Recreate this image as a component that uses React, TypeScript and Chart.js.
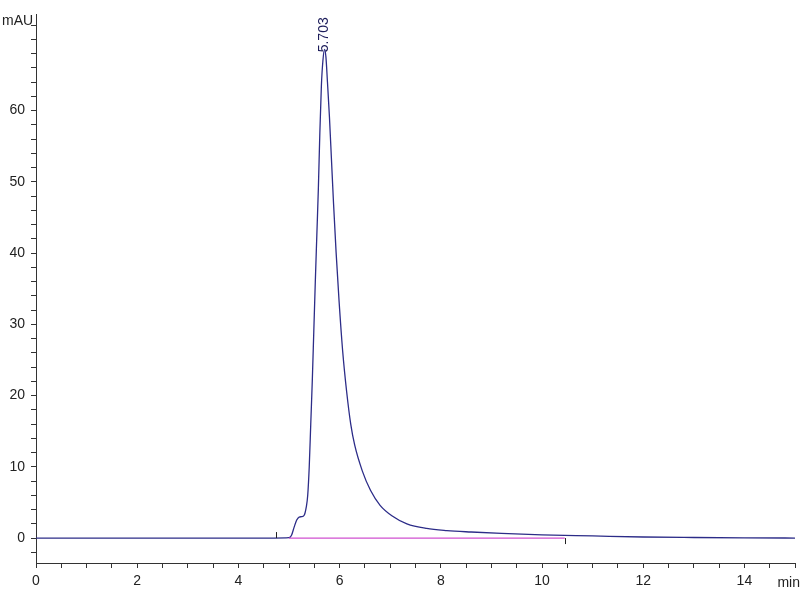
import React, { useEffect, useRef } from "react";
import { Chart, registerables } from "chart.js";

Chart.register(...registerables);

// Retention time (min) and absorbance (mAU) of the trace
const timeMin: number[] = [
  0, 4.7, 5.0, 5.05, 5.1, 5.15, 5.2, 5.25, 5.3, 5.34, 5.37, 5.4, 5.43, 5.46, 5.49,
  5.52, 5.55, 5.58, 5.61, 5.64, 5.67, 5.703, 5.73, 5.76, 5.8, 5.84, 5.88, 5.93,
  5.99, 6.06, 6.14, 6.22, 6.3, 6.45, 6.61, 6.8, 7.04, 7.33, 7.72, 8.12, 8.6, 9.2,
  10, 11, 12, 13, 14, 15,
];
const signalMAU: number[] = [
  0, 0, 0.05, 0.4, 1.5, 2.5, 2.95, 3.0, 3.2, 4.3, 6.0, 10, 16, 22, 29, 36, 42.5,
  49, 57, 63.5, 67, 68.6, 67.5, 64, 59, 53, 47, 40.2, 33.2, 26.3, 20.5, 16.0,
  13.0, 9.4, 6.7, 4.6, 3.1, 2.0, 1.35, 1.05, 0.85, 0.65, 0.45, 0.3, 0.15, 0.08,
  0.03, 0,
];
// Integration baseline
const baselineTime: number[] = [5.0, 10.45];
const baselineMAU: number[] = [0, 0];
// Peak annotation
const peakTime = 5.703;
const peakValue = 68.6;
const peakLabel = "5.703";
// Integration event markers
const eventStart = 4.75;
const eventEnd = 10.45;

const xMin = 0, xMax = 15, yMin = -3.5, yMax = 73.5;
const yLabelMax = 60;
const xLabel = "min";
const yLabel = "mAU";

export default function App() {
  const ref = useRef<HTMLCanvasElement>(null);
  useEffect(() => {
    if (!ref.current) return;
    const font = '"Liberation Sans Narrow", "Liberation Sans", Arial, sans-serif';
    const annot = {
      id: "annot",
      afterDatasetsDraw(chart: any) {
        const { ctx, scales } = chart;
        const xs = scales.x, ys = scales.y;
        ctx.save();
        // event markers
        ctx.strokeStyle = "#222";
        ctx.lineWidth = 1;
        const x1 = Math.round(xs.getPixelForValue(eventStart)) + 0.5;
        const y0 = ys.getPixelForValue(0);
        ctx.beginPath();
        ctx.moveTo(x1, y0 - 6);
        ctx.lineTo(x1, y0);
        const x2 = Math.round(xs.getPixelForValue(eventEnd)) + 0.5;
        ctx.moveTo(x2, y0);
        ctx.lineTo(x2, y0 + 6);
        ctx.stroke();
        // peak label
        const px = xs.getPixelForValue(peakTime);
        const py = ys.getPixelForValue(peakValue);
        ctx.translate(px, py + 3);
        ctx.rotate(-Math.PI / 2);
        ctx.fillStyle = "#1c1c5a";
        ctx.font = "14px " + font;
        ctx.textAlign = "left";
        ctx.textBaseline = "middle";
        ctx.fillText(peakLabel, 0, 0);
        ctx.restore();
        // axis titles
        ctx.save();
        ctx.fillStyle = "#222";
        ctx.font = "14px " + font;
        ctx.textBaseline = "middle";
        ctx.textAlign = "left";
        ctx.fillText(yLabel, 2, 21);
        ctx.textAlign = "right";
        ctx.fillText(xLabel, 800, 583);
        ctx.restore();
      },
    };
    const chart = new Chart(ref.current, {
      type: "line",
      data: {
        datasets: [
          {
            data: baselineTime.map((t, i) => ({ x: t, y: baselineMAU[i] })),
            borderColor: "#d050d0",
            borderWidth: 1.3,
            pointRadius: 0,
            tension: 0,
            order: 0,
          },
          {
            data: timeMin.map((t, i) => ({ x: t, y: signalMAU[i] })),
            borderColor: "#2c2c88",
            borderWidth: 1.3,
            pointRadius: 0,
            cubicInterpolationMode: "monotone",
            order: 1,
          },
        ],
      },
      plugins: [annot],
      options: {
        responsive: false,
        animation: false,
        devicePixelRatio: 1,
        layout: { padding: { top: 12, right: 0, left: 0, bottom: 0 } },
        plugins: { legend: { display: false }, tooltip: { enabled: false } },
        scales: {
          x: {
            type: "linear",
            min: xMin,
            max: xMax,
            afterFit: (s: any) => { s.height = 37; },
            ticks: {
              stepSize: 0.5,
              includeBounds: false,
              autoSkip: false,
              maxRotation: 0,
              padding: 5,
              color: "#222",
              font: { family: font, size: 14 },
              callback: (v: any) => (Number(v) % 2 === 0 ? String(v) : ""),
            },
            grid: { drawOnChartArea: false, drawTicks: true, tickLength: 5, color: "#333" },
            border: { color: "#333", width: 1 },
          },
          y: {
            type: "linear",
            min: yMin,
            max: yMax,
            afterFit: (s: any) => { s.width = 36; },
            ticks: {
              stepSize: 2,
              includeBounds: false,
              autoSkip: false,
              padding: 6,
              color: "#222",
              font: { family: font, size: 14 },
              callback: (v: any) =>
                Number(v) % 10 === 0 && Number(v) <= yLabelMax ? String(v) : "",
            },
            grid: { drawOnChartArea: false, drawTicks: true, tickLength: 5, color: "#333" },
            border: { color: "#333", width: 1 },
          },
        },
      },
    } as any);
    return () => chart.destroy();
  }, []);
  return (
    <div style={{ position: "absolute", left: 0, top: 0, width: 800, height: 600, background: "#fff" }}>
      <canvas ref={ref} width={800} height={600} />
    </div>
  );
}
